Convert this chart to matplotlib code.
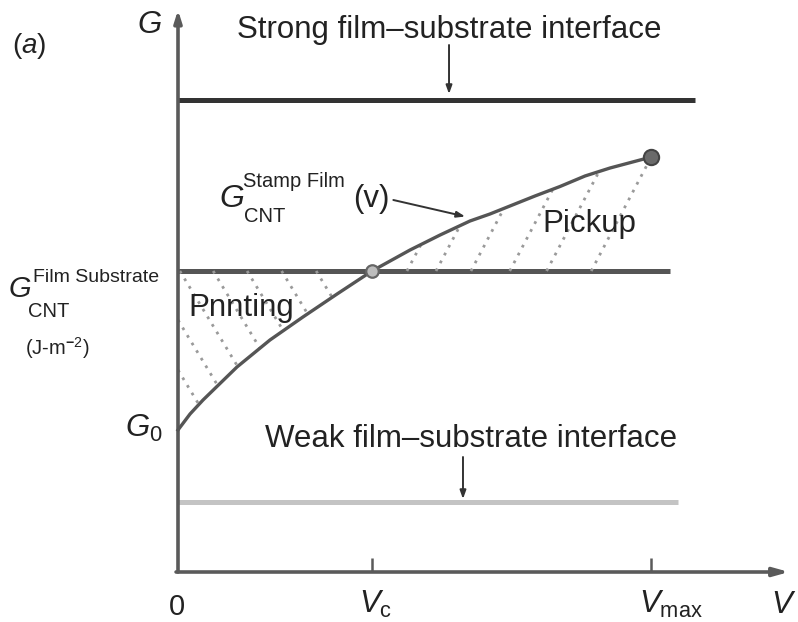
import numpy as np
import matplotlib
matplotlib.use("Agg")
import matplotlib.pyplot as plt

# ---------------- data (schematic units) ----------------
V_C = 1.0
V_MAX = 2.44
G_STRONG = 4.72
G_SUB = 3.01
G_WEAK = 0.70

# G_CNT^{Stamp Film}(v) curve
V_curve = [0.0, 0.062, 0.129, 0.304, 0.474, 0.644, 0.820, 1.0, 1.196, 1.351,
           1.505, 1.608, 1.711, 1.840, 1.969, 2.098, 2.227, 2.44]
G_curve = [1.42, 1.58, 1.72, 2.05, 2.32, 2.55, 2.78, 3.01, 3.22, 3.37,
           3.51, 3.58, 3.66, 3.76, 3.855, 3.96, 4.04, 4.15]

# line extents (V)
V_END_STRONG = 2.665
V_END_SUB = 2.536
V_END_WEAK = 2.577

# hatch positions
PICKUP_HATCH_V0 = [1.18, 1.33, 1.51, 1.71, 1.90, 2.13]
PRINT_HATCH_G0 = [5.29, 4.72, 4.15, 3.59, 3.04, 2.52, 2.02]

TICK_V = [V_C, V_MAX]
TICK_LABELS = ["0", r"$V_\mathrm{c}$", r"$V_\mathrm{max}$"]

# ---------------- figure ----------------
plt.rcParams["font.family"] = ["Liberation Sans", "DejaVu Sans"]
plt.rcParams["mathtext.fontset"] = "custom"
plt.rcParams["mathtext.rm"] = "Liberation Sans"
plt.rcParams["mathtext.it"] = "Liberation Sans:italic"
plt.rcParams["mathtext.bf"] = "Liberation Sans:bold"

W, H = 798, 622
fig = plt.figure(figsize=(W / 100, H / 100), dpi=100)
ax = fig.add_axes([0, 0, 1, 1])
X0, Y0, SX, SY = 178, 572, 194, 100
ax.set_xlim(-X0 / SX, (W - X0) / SX)
ax.set_ylim(-(H - Y0) / SY, Y0 / SY)
ax.axis("off")

TXT = "#222222"
AX = "#5a5a5a"


def P(x, y):
    return (x / W, 1 - y / H)


# axes with arrows
ax.annotate("", xy=(0, 5.62), xytext=(0, 0),
            arrowprops=dict(arrowstyle="-|>,head_length=0.7,head_width=0.22",
                            color=AX, lw=2.6, shrinkA=0, shrinkB=0))
ax.annotate("", xy=(3.15, 0), xytext=(-0.01, 0),
            arrowprops=dict(arrowstyle="-|>,head_length=0.9,head_width=0.25",
                            color=AX, lw=2.6, shrinkA=0, shrinkB=0))
for v in TICK_V:
    ax.plot([v, v], [0, 0.14], color=AX, lw=1.8, solid_capstyle="butt")

# horizontal interface lines
ax.plot([0, V_END_STRONG], [G_STRONG, G_STRONG], color="#333333", lw=3.6, solid_capstyle="butt")
ax.plot([0, V_END_SUB], [G_SUB, G_SUB], color="#555555", lw=3.6, solid_capstyle="butt")
ax.plot([0, V_END_WEAK], [G_WEAK, G_WEAK], color="#c4c4c4", lw=3.6, solid_capstyle="butt")

# curve
ax.plot(V_curve, G_curve, color="#555555", lw=2.4, zorder=4, solid_joinstyle="round")

# hatching
HATCH_STYLE = dict(color="#9a9a9a", lw=2.0, linestyle=(0, (1, 2.2)), zorder=2)
k_pick = 1.9 * SX / SY
for v0 in PICKUP_HATCH_V0:
    vv = np.linspace(v0, V_MAX, 800)
    gc = np.interp(vv, V_curve, G_curve)
    gl = G_SUB + k_pick * (vv - v0)
    hit = np.nonzero(gl >= gc)[0]
    idx = hit[0] if hit.size else len(vv) - 1
    ax.plot([v0, vv[idx]], [G_SUB, min(gl[idx], gc[idx])], **HATCH_STYLE)

k_print = 1.65 * SX / SY
for g0 in PRINT_HATCH_G0:
    vs = max(0.0, (g0 - G_SUB) / k_print)
    vv = np.linspace(vs, V_C, 800)
    gc = np.interp(vv, V_curve, G_curve)
    gl = g0 - k_print * vv
    hit = np.nonzero(gl <= gc)[0]
    idx = hit[0] if hit.size else len(vv) - 1
    ax.plot([vs, vv[idx]], [g0 - k_print * vs, gl[idx]], **HATCH_STYLE)

# markers
ax.plot([V_C], [G_SUB], marker="o", ms=9, mfc="#bdbdbd", mec="#666666", mew=1.6, zorder=5)
ax.plot([V_MAX], [G_curve[-1]], marker="o", ms=11, mfc="#6a6a6a", mec="#444444", mew=1.5, zorder=5)

# arrows for annotations
small_arrow = dict(arrowstyle="-|>,head_length=0.5,head_width=0.18", color="#333333",
                   lw=1.4, shrinkA=0, shrinkB=0)
ax.annotate("", xy=(1.397, G_STRONG + 0.06), xytext=(1.397, 5.27), arrowprops=small_arrow)
ax.annotate("", xy=(1.469, G_WEAK + 0.03), xytext=(1.469, 1.15), arrowprops=small_arrow)
ax.annotate("", xy=(1.48, 3.555), xytext=(1.11, 3.72), arrowprops=small_arrow)

# ---------------- text ----------------
T = dict(transform=fig.transFigure, color=TXT, va="baseline")
BIG = 22.5
fig.text(*P(12, 53), r"($a$)", fontsize=20, ha="left", **T)
fig.text(*P(137, 33), "G", fontsize=BIG, ha="left", fontstyle="italic", **T)

fig.text(*P(449, 38), "Strong film\u2013substrate interface", fontsize=BIG, ha="center", **T)
fig.text(*P(471, 447), "Weak film\u2013substrate interface", fontsize=BIG, ha="center", **T)
fig.text(*P(542, 232), "Pickup", fontsize=BIG, ha="left", **T)
fig.text(*P(188, 316), "Pnnting", fontsize=BIG, ha="left", **T)

# G_CNT^{Stamp Film}(v)
fig.text(*P(219, 207), "G", fontsize=23, ha="left", fontstyle="italic", **T)
fig.text(*P(243, 187), "Stamp Film", fontsize=14.5, ha="left", **T)
fig.text(*P(244, 222), "CNT", fontsize=14.5, ha="left", **T)
fig.text(*P(353, 207), "(v)", fontsize=22.5, ha="left", **T)

# G_CNT^{Film Substrate}
fig.text(*P(9, 297), "G", fontsize=21, ha="left", fontstyle="italic", **T)
fig.text(*P(33, 282), "Film Substrate", fontsize=14, ha="left", **T)
fig.text(*P(28, 317), "CNT", fontsize=14.5, ha="left", **T)
fig.text(*P(25, 355), r"(J-m$^{\mathbf{-}2}$)", fontsize=14.5, ha="left", **T)

# G0
fig.text(*P(163, 437), r"$G_0$", fontsize=BIG, ha="right", **T)

# x labels
fig.text(*P(177, 615), TICK_LABELS[0], fontsize=21, ha="center", **T)
fig.text(*P(376, 613), TICK_LABELS[1], fontsize=BIG, ha="center", **T)
fig.text(*P(671, 613), TICK_LABELS[2], fontsize=BIG, ha="center", **T)
fig.text(*P(784, 613), r"$V$", fontsize=BIG, ha="center", **T)

fig.savefig("out.png", dpi=100)
